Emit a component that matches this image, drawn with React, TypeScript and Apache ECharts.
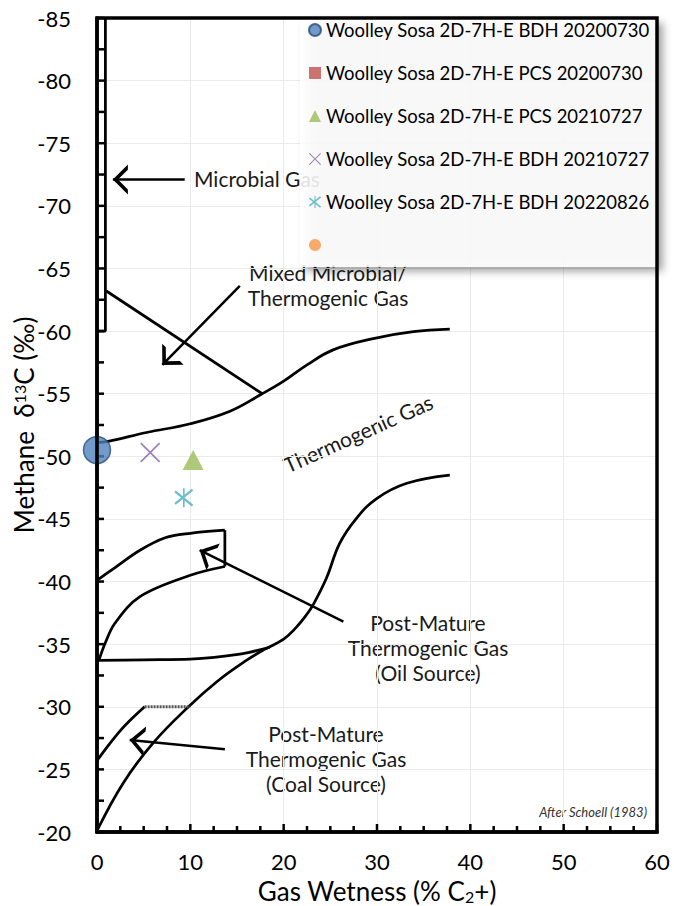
import React, { useEffect, useRef } from "react";
import * as echarts from "echarts";

const FONT = "Lato, 'Noto Sans', sans-serif";

// Axis ranges / ticks
const xRange = [0, 60];
const yRange = [-85, -20];
const xMajorTicks = [0, 10, 20, 30, 40, 50, 60];
const xMinorTicks = [2.5, 5, 7.5, 12.5, 15, 17.5, 22.5, 25, 27.5, 32.5, 35, 37.5, 42.5, 45, 47.5, 52.5, 55, 57.5];
const yMajorTicks = [-85, -80, -75, -70, -65, -60, -55, -50, -45, -40, -35, -30, -25, -20];
const yMinorTicks = [-82.5, -77.5, -72.5, -67.5, -62.5, -57.5, -52.5, -47.5, -42.5, -37.5, -32.5, -27.5, -22.5];

// Legend / series names
const seriesNames = [
  "Woolley Sosa 2D-7H-E BDH 20200730",
  "Woolley Sosa 2D-7H-E PCS 20200730",
  "Woolley Sosa 2D-7H-E PCS 20210727",
  "Woolley Sosa 2D-7H-E BDH 20210727",
  "Woolley Sosa 2D-7H-E BDH 20220826",
  " ",
];

// Sample points [gas wetness %, methane d13C]
const bdh20200730 = [[0, -50.5]];
const pcs20200730: number[][] = [];
const pcs20210727 = [[10.3, -49.7]];
const bdh20210727 = [[5.7, -50.3]];
const bdh20220826 = [[9.3, -46.7]];
const unnamedOrange: number[][] = [];

// Schoell (1983) field boundaries
const microbialBox = [[0, -60], [0.9, -60], [0.9, -85]];
const mixedLine = [[1.0, -63.2], [17.7, -55.0]];
const thermoUpper = [
  [0, -51.1], [1.2, -51.2], [5.3, -51.9], [10, -52.6], [14.25, -53.6],
  [17.6, -54.95], [20, -56.0], [22.5, -57.3], [25.3, -58.5], [29.6, -59.4], [33.9, -59.95], [37.8, -60.15],
];
const thermoLower = [
  [0, -20.1], [2.8, -23.9], [6.0, -27.1], [9.8, -30.0], [13.0, -32.1], [16.0, -33.7], [18.0, -34.6],
  [20, -35.4], [21.3, -36.3], [22.4, -37.3], [23.2, -38.2], [24.6, -40.3], [26.0, -43.05], [27.8, -45.05], [30, -46.65],
  [33.2, -47.85], [37.8, -48.5],
];
const oilFloor = [[0, -33.7], [5, -33.75], [10, -33.8], [15.3, -34.2], [18.5, -34.75]];
const oilInner = [[0.2, -33.7], [0.86, -35.05], [1.9, -36.65], [4.6, -38.8], [10, -40.5], [13.7, -41.2]];
const oilOuter = [[0, -40.1], [1.9, -41.1], [4.6, -42.5], [7.3, -43.5], [10, -43.85], [13.7, -44.1]];
const oilEdge = [[13.7, -44.1], [13.7, -41.2]];
const coalEdge = [[0, -25.7], [1.2, -26.9], [2.5, -28.1], [3.8, -29.1], [5.1, -30]];
const coalCap = [[5.1, -30], [10, -30]];

// Annotation arrows: [tail, tip]
const arrowMicrobial = [[9.4, -72.1], [1.7, -72.1]];
const arrowMixed = [[15.3, -63.6], [7.0, -57.3]];
const arrowOil = [[26.4, -36.8], [11.0, -42.5]];
const arrowCoal = [[13.7, -26.6], [3.5, -27.35]];

const X_PATH =
  "path://M1.2,0 L20,18.8 L18.8,20 L0,1.2 Z M18.8,0 L20,1.2 L1.2,20 L0,18.8 Z";
const AST_PATH =
  "path://M1.6,2.6 L20,17.6 L18.4,19.4 L0,4.4 Z M18.4,0.6 L20,2.4 L1.6,17.4 L0,15.6 Z M9.1,0 L10.9,0 L10.9,20 L9.1,20 Z";
const CHEVRON = "path://M0,20 L10,0 L20,20 L16.6,20 L10,6.8 L3.4,20 Z M10,-20 L10.01,-20 Z";

// plot-area layout (pixels)
const GRID = { left: 97, right: 17, top: 18, bottom: 74 };
const W = 674;
const H = 906;

function curve(data: number[][], smooth: number | false, extra: any = {}) {
  return {
    type: "line",
    data,
    showSymbol: false,
    symbol: "none",
    smooth,
    silent: true,
    clip: false,
    z: 3,
    lineStyle: { color: "#000", width: 2.75, ...extra },
  };
}

function arrow(coords: number[][]) {
  return {
    type: "lines",
    coordinateSystem: "cartesian2d",
    silent: true,
    z: 3,
    symbol: ["none", CHEVRON],
    symbolSize: [15, 30],
    lineStyle: { color: "#000", width: 2.5, curveness: 0, opacity: 1 },
    data: [{ coords }],
  };
}

// inward tick marks, placed through the axis scales as small bars
function xTicks(values: number[], len: number) {
  return {
    type: "scatter",
    silent: true,
    clip: false,
    z: 6,
    symbol: "rect",
    symbolSize: [2.5, len],
    symbolOffset: [0, -len / 2],
    itemStyle: { color: "#000", opacity: 1 },
    data: values.map((v) => [v, yRange[1]]),
  };
}
function yTicks(values: number[], len: number) {
  return {
    type: "scatter",
    silent: true,
    clip: false,
    z: 6,
    symbol: "rect",
    symbolSize: [len, 2.5],
    symbolOffset: [len / 2, 0],
    itemStyle: { color: "#000", opacity: 1 },
    data: values.map((v) => [xRange[0], v]),
  };
}

const annoStyle = (text: string, align: string, extra: any = {}) => ({
  text,
  fill: "#1a1a1a",
  fontSize: 21,
  fontFamily: FONT,
  align,
  textAlign: align,
  verticalAlign: "middle",
  textVerticalAlign: "middle",
  lineHeight: 25,
  ...extra,
});

export default function App() {
  const ref = useRef<HTMLDivElement>(null);
  useEffect(() => {
    if (!ref.current) return;
    const chart = echarts.init(ref.current, undefined, { renderer: "svg" });
    const option: any = {
      animation: false,
      backgroundColor: "#fff",
      textStyle: { fontFamily: FONT },
      grid: {
        ...GRID,
        show: false,
        outerBoundsMode: "none",
        containLabel: false,
      },
      xAxis: {
        type: "value", min: xRange[0], max: xRange[1], interval: 10,
        axisLine: { show: true, onZero: false, lineStyle: { color: "#000", width: 3.5 } },
        axisTick: { show: false },
        minorTick: { show: false },
        splitLine: { show: true, lineStyle: { color: "#ebebeb", width: 1, type: "solid" } },
        axisLabel: { color: "#000", fontSize: 22, margin: 18, fontFamily: FONT },
        name: "Gas Wetness (% C{sub|2}+)",
        nameLocation: "middle",
        nameGap: 46,
        nameMoveOverlap: false,
        nameTextStyle: {
          color: "#000", fontSize: 26, fontFamily: FONT,
          rich: {
            sub: { fontSize: 16, fontFamily: FONT, color: "#000", lineHeight: 16, verticalAlign: "bottom", padding: [12, 0, 0, 0] },
          },
        },
      },
      yAxis: {
        type: "value", min: yRange[0], max: yRange[1], interval: 5, inverse: true,
        axisLine: { show: true, onZero: false, lineStyle: { color: "#000", width: 3.5 } },
        axisTick: { show: false },
        minorTick: { show: false },
        splitLine: { show: true, lineStyle: { color: "#ebebeb", width: 1, type: "solid" } },
        axisLabel: { color: "#000", fontSize: 22, margin: 26, fontFamily: FONT },
        name: "Methane  δ{sup|13}C (‰)",
        nameLocation: "middle",
        nameGap: 60,
        nameMoveOverlap: false,
        nameTextStyle: {
          color: "#000", fontSize: 26, fontFamily: FONT,
          rich: {
            sup: { fontSize: 16, fontFamily: FONT, color: "#000", lineHeight: 16, verticalAlign: "top", padding: [0, 0, 12, 0] },
          },
        },
      },
      legend: {
        orient: "vertical",
        left: 300,
        top: 19,
        selectedMode: false,
        itemWidth: 12,
        itemHeight: 12,
        itemGap: 21,
        padding: [0, 7, 11, 8],
        backgroundColor: "rgba(255,255,255,0.85)",
        shadowBlur: 8,
        shadowColor: "rgba(0,0,0,0.45)",
        shadowOffsetX: 6,
        shadowOffsetY: 4,
        textStyle: { fontSize: 18.5, color: "#000", lineHeight: 22, fontFamily: FONT },
        data: seriesNames,
      },
      graphic: [
        {
          type: "rect",
          z: 10,
          silent: true,
          shape: { x: GRID.left, y: GRID.top, width: W - GRID.left - GRID.right, height: H - GRID.top - GRID.bottom },
          style: { fill: "none", stroke: "#000", lineWidth: 3.5 },
        },
        { type: "text", x: 194, y: 178, style: annoStyle("Microbial Gas", "left") },
        { type: "text", x: 328, y: 284.5, style: annoStyle("Mixed Microbial/\nThermogenic Gas", "center") },
        { type: "text", x: 358, y: 433, rotation: (24 * Math.PI) / 180, style: annoStyle("Thermogenic Gas", "center") },
        { type: "text", x: 428, y: 647, style: annoStyle("Post-Mature\nThermogenic Gas\n(Oil Source)", "center") },
        { type: "text", x: 326, y: 758.5, style: annoStyle("Post-Mature\nThermogenic Gas\n(Coal Source)", "center") },
        {
          type: "text", x: 647, y: 812,
          style: annoStyle("After Schoell (1983)", "right", { fontSize: 13, fontStyle: "italic", fill: "#333" }),
        },
      ],
      series: [
        xTicks(xMajorTicks, 8),
        xTicks(xMinorTicks, 6),
        yTicks(yMajorTicks, 7),
        yTicks(yMinorTicks, 7),
        curve(microbialBox, false),
        curve(mixedLine, false),
        curve(thermoUpper, 0.4),
        curve(thermoLower, 0.4),
        curve(oilFloor, 0.3),
        curve(oilInner, 0.35),
        curve(oilOuter, 0.35),
        curve(oilEdge, false),
        curve(coalEdge, 0.3),
        curve(coalCap, false, { color: "#555", type: [2, 1], width: 3 }),
        arrow(arrowMicrobial),
        arrow(arrowMixed),
        arrow(arrowOil),
        arrow(arrowCoal),
        {
          name: seriesNames[0], type: "scatter", data: bdh20200730, symbol: "circle", symbolSize: 27, clip: false, z: 7,
          itemStyle: { color: "#4F81BD", borderColor: "#2C4D75", borderWidth: 1.5 },
        },
        {
          name: seriesNames[1], type: "scatter", data: pcs20200730, symbol: "rect", symbolSize: 12, clip: false, z: 7,
          itemStyle: { color: "#C0504D" },
        },
        {
          name: seriesNames[2], type: "scatter", data: pcs20210727, symbol: "triangle", symbolSize: [21, 20], clip: false, z: 7,
          itemStyle: { color: "#9BBB59" },
        },
        {
          name: seriesNames[3], type: "scatter", data: bdh20210727, symbol: X_PATH, symbolSize: 20, clip: false, z: 7,
          itemStyle: { color: "#8064A2" },
        },
        {
          name: seriesNames[4], type: "scatter", data: bdh20220826, symbol: AST_PATH, symbolSize: 19, clip: false, z: 7,
          itemStyle: { color: "#4BACC6" },
        },
        {
          name: seriesNames[5], type: "scatter", data: unnamedOrange, symbol: "circle", symbolSize: 12, clip: false, z: 7,
          itemStyle: { color: "#F79646" },
        },
      ],
    };
    chart.setOption(option);
    return () => chart.dispose();
  }, []);
  return (
    <div
      ref={ref}
      style={{ position: "absolute", left: 0, top: 0, width: W, height: H }}
    />
  );
}
